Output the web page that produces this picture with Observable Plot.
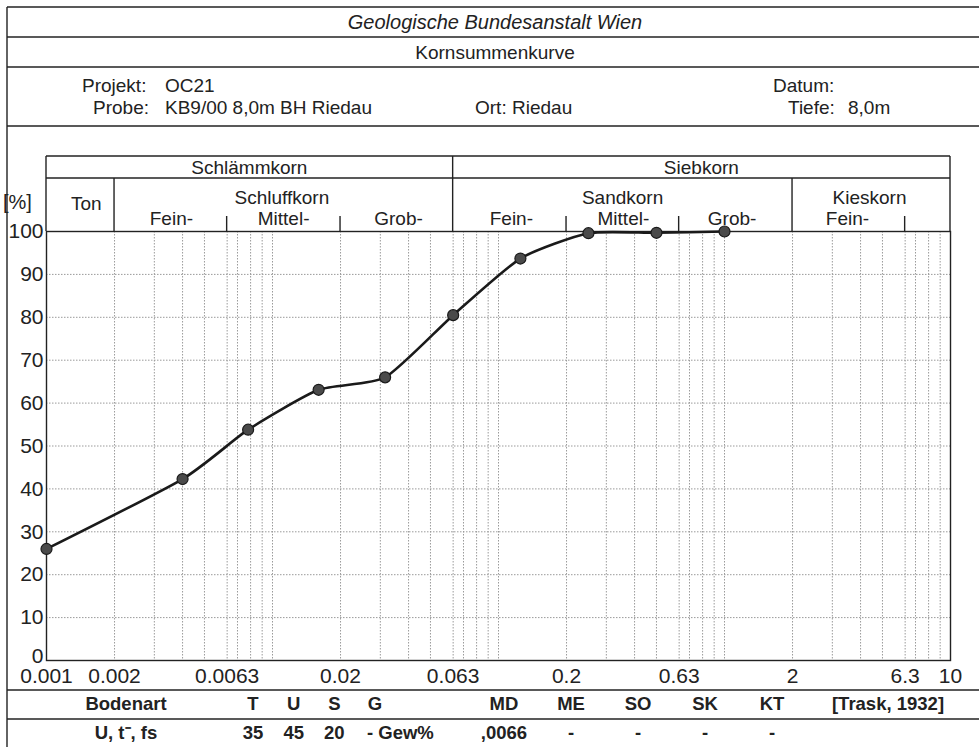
<!DOCTYPE html>
<html><head><meta charset="utf-8">
<script src="https://cdn.jsdelivr.net/npm/d3@7"></script>
<script src="https://cdn.jsdelivr.net/npm/@observablehq/plot@0.6"></script>
<style>
body{margin:0;background:#fff;}
#chart{position:relative;width:979px;height:747px;overflow:hidden;}
</style></head><body><div id="chart"></div>
<script>
// ---- data ----
const grainSize = [0.001, 0.004, 0.0078, 0.016, 0.0315, 0.063, 0.125, 0.25, 0.5, 1.0];
const passing   = [26, 42.3, 53.8, 63.1, 66, 80.5, 93.7, 99.6, 99.7, 100];

const xTickValues = [0.001, 0.002, 0.0063, 0.02, 0.063, 0.2, 0.63, 2, 6.3, 10];
const xTickLabels = ["0.001", "0.002", "0.0063", "0.02", "0.063", "0.2", "0.63", "2", "6.3", "10"];
const yTickValues = [10, 20, 30, 40, 50, 60, 70, 80, 90, 100];
const yZero = [0];
const gridX = [0.002, 0.003, 0.004, 0.005, 0.0063, 0.007, 0.008, 0.009,
               0.01, 0.02, 0.03, 0.04, 0.05, 0.063, 0.07, 0.08, 0.09,
               0.1, 0.2, 0.3, 0.4, 0.5, 0.63, 0.7, 0.8, 0.9,
               1, 2, 3, 4, 5, 6.3, 7, 8, 9];
const gridY = [10, 20, 30, 40, 50, 60, 70, 80, 90];

// header band (grain-size classes, located in mm)
const groupNames = ["Schlämmkorn", "Siebkorn"];
const groupAt    = [0.0079, 0.79];
const classNames = ["Schluffkorn", "Sandkorn", "Kieskorn"];
const classAt    = [0.011, 0.354, 4.38];
const tonName = ["Ton"];
const tonAt   = [0.0015];
const subNames = ["Fein-", "Mittel-", "Grob-", "Fein-", "Mittel-", "Grob-", "Fein-"];
const subAt    = [0.00357, 0.0112, 0.0361, 0.114, 0.357, 1.08, 3.5];
const groupBoundary = [0.063];
const classBoundary = [0.002, 2];
const subBoundary   = [0.0063, 0.02, 0.2, 0.63, 6.3];

// form texts
const institute = "Geologische Bundesanstalt Wien";
const chartTitle = "Kornsummenkurve";
const infoLabels = ["Projekt:", "Probe:", "Ort:", "Datum:", "Tiefe:"];
const infoValues = ["OC21", "KB9/00 8,0m BH Riedau", "Riedau", "", "8,0m"];
const soilHead = "Bodenart";
const soilType = "U, t\u207B, fs";
const fractionNames = ["T", "U", "S", "G"];
const fractionValues = ["35", "45", "20"];
const fractionUnit = "- Gew%";
const traskNames = ["MD", "ME", "SO", "SK", "KT"];
const traskValues = [",0066", "-", "-", "-", "-"];
const traskRef = "[Trask, 1932]";

const rows = grainSize.map((g, i) => ({size: g, pct: passing[i]}));

const FONT = "'Liberation Sans', Arial, Helvetica, sans-serif";
const hdr = {fontSize: 19, fill: "#222", frameAnchor: "top", lineAnchor: "middle"};
const yLab = {y: d => d, text: d => String(d), frameAnchor: "left", textAnchor: "end", lineAnchor: "middle", dx: -3, fontSize: 21, fill: "#222"};

const plot = Plot.plot({
  width: 979, height: 747,
  marginLeft: 46, marginRight: 29, marginTop: 231, marginBottom: 87,
  style: {fontFamily: FONT, fontSize: "21px", color: "#222", background: "#fff", overflow: "visible"},
  x: {type: "log", domain: [0.001, 10], axis: null},
  y: {domain: [0, 100], axis: null},
  marks: [
    Plot.ruleX(gridX, {stroke: "#9a9a9a", strokeWidth: 1, strokeDasharray: "1.5,1.5"}),
    Plot.ruleY(gridY, {stroke: "#9a9a9a", strokeWidth: 1, strokeDasharray: "1.5,1.5"}),
    Plot.frame({stroke: "#222", strokeWidth: 1.4}),
    Plot.text(xTickValues, {x: d => d, text: (d, i) => xTickLabels[i], frameAnchor: "bottom", lineAnchor: "middle", dy: 16, fontSize: 21, fill: "#222"}),
    Plot.text(yTickValues, yLab),
    Plot.text(yZero, {...yLab, dy: -4}),
    Plot.line(rows, {x: "size", y: "pct", curve: "cardinal", tension: 0.4, stroke: "#1a1a1a", strokeWidth: 2.6}),
    Plot.dot(rows, {x: "size", y: "pct", r: 5.5, fill: "#4a4a4a", stroke: "#1a1a1a", strokeWidth: 1.2}),
    Plot.text(groupNames, {x: (d, i) => groupAt[i], text: d => d, ...hdr, dy: -64}),
    Plot.text(classNames, {x: (d, i) => classAt[i], text: d => d, ...hdr, dy: -34}),
    Plot.text(tonName, {x: (d, i) => tonAt[i], text: d => d, ...hdr, dy: -28}),
    Plot.text(subNames, {x: (d, i) => subAt[i], text: d => d, ...hdr, dy: -13})
  ]
});
document.getElementById("chart").appendChild(plot);

// ---- form lines and texts drawn around the plot using its scales ----
const svg = d3.select(plot);
const xs = plot.scale("x");
const X = v => xs.apply(v);
const left = X(0.001), right = X(10);
const g = svg.append("g").attr("stroke", "#222").attr("stroke-width", 1.4).attr("fill", "none");
const hline = (y, x1 = 7, x2 = 979) => g.append("line").attr("x1", x1).attr("x2", x2).attr("y1", y).attr("y2", y);
const vline = (x, y1, y2) => g.append("line").attr("x1", x).attr("x2", x).attr("y1", y1).attr("y2", y2);
// outer form
vline(7, 7, 747);
[7, 37, 67, 126, 690, 719].forEach(y => hline(y));
// header band
hline(156, left, right);
hline(178, left, right);
vline(left, 156, 231);
vline(right, 156, 231);
groupBoundary.forEach(v => vline(X(v), 156, 231));
classBoundary.forEach(v => vline(X(v), 178, 231));
subBoundary.forEach(v => vline(X(v), 216, 231));

const t = svg.append("g").attr("fill", "#222").attr("font-family", FONT);
const txt = (s, x, y, opts = {}) => t.append("text").text(s).attr("x", x).attr("y", y).attr("dy", "0.35em")
  .attr("font-size", opts.size || 19).attr("text-anchor", opts.anchor || "start")
  .attr("font-weight", opts.weight || "normal").attr("font-style", opts.style || "normal");

txt(institute, 495, 22, {anchor: "middle", size: 20, style: "italic"});
txt(chartTitle, 495, 52, {anchor: "middle", size: 19});
txt(infoLabels[0], 82, 85); txt(infoValues[0], 165, 85);
txt(infoLabels[1], 93, 107); txt(infoValues[1], 165, 107);
txt(infoLabels[2], 475, 107); txt(infoValues[2], 512, 107);
txt(infoLabels[3], 773, 85); txt(infoValues[3], 848, 85);
txt(infoLabels[4], 788, 107); txt(infoValues[4], 848, 107);
txt("[%]", 3, 202, {size: 20});

// bottom table
const fx = d3.scalePoint(fractionNames, [253, 375]);
const tx = d3.scalePoint(traskNames, [504, 772]);
const B = {weight: "bold", size: 18.5, anchor: "middle"};
txt(soilHead, 126, 704, B);
txt(soilType, 126, 733, B);
fractionNames.forEach(n => txt(n, fx(n), 704, B));
fractionValues.forEach((v, i) => txt(v, fx(fractionNames[i]), 733, B));
txt(fractionUnit, 367, 733, {...B, anchor: "start"});
traskNames.forEach(n => txt(n, tx(n), 704, B));
traskValues.forEach((v, i) => txt(v, tx(traskNames[i]), 733, B));
txt(traskRef, 888, 704, B);
</script></body></html>
